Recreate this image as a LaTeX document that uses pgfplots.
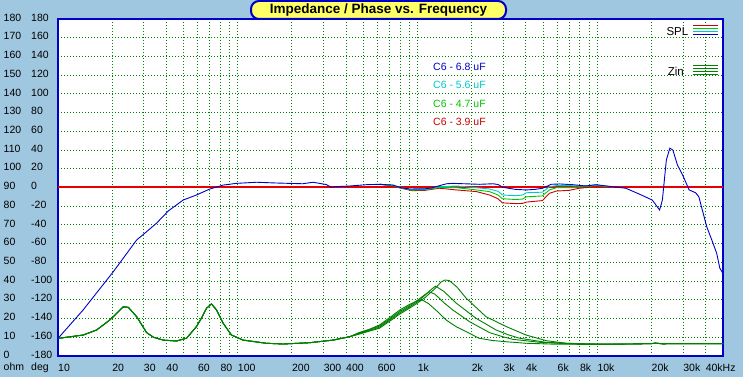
\documentclass[border=0pt]{standalone}
\usepackage{pgfplots}
\pgfplotsset{compat=1.18}
\usepackage{pgfplotstable}
\usepackage{fontspec}
\setmainfont{Liberation Sans}
\definecolor{bgblue}{RGB}{160,199,224}
\definecolor{frameblue}{RGB}{0,0,200}
\definecolor{gridgreen}{RGB}{0,128,0}
\definecolor{zgreen}{RGB}{0,128,0}
\definecolor{splblue}{RGB}{0,0,200}
\definecolor{splcyan}{RGB}{0,200,200}
\definecolor{splgreen}{RGB}{0,200,0}
\definecolor{splred}{RGB}{200,0,0}
\definecolor{refred}{RGB}{230,0,0}
\definecolor{titleyellow}{RGB}{255,255,102}

\pgfplotstableread{
f v
10 9.4
13.8 24.6
20.3 45
27.4 62
31.1 66.4
35.3 70.9
41.1 77.5
49.7 83.3
58.9 86
69.9 89.2
83 91.3
98 92.2
127 92.8
164 92.4
230 92
262 92.8
285 92.2
310 91.6
330 90.2
360 90.5
420 90.8
520 91.5
616 91.7
728 91.3
808 89.9
901 89.2
1100 89.3
1200 89.8
1326 91.0
1450 92.0
1569 92.2
1948 91.9
2216 91.7
2624 92
2800 91.6
2990 90.1
3500 89.0
4016 88.7
4500 89.0
4966 89.6
5532 91.7
6150 91.9
7290 91.5
8640 90.8
9830 91.5
12150 90.4
14400 89.6
17100 86.5
20200 83.3
22200 78
23000 83.3
24200 104.7
25300 111
26300 110
27900 102
29800 96.7
32400 88.7
35200 87.2
36700 85
40600 69
43300 62
46100 54.9
48000 46.9
50000 44
}\tblblue

\pgfplotstableread{
f v
616 91.7
728 91.3
808 89.9
938 88.9
1100 89.0
1325 90.4
1648 90.8
2128 89.9
2512 89.2
2800 88.0
2966 86.0
3500 85.6
3831 86.0
4030 87.2
4945 87.5
5410 90.4
5920 91.0
6985 91.0
7943 90.8
9830 91.3
12150 90.4
}\tblcyan

\pgfplotstableread{
f v
616 91.7
728 91.0
808 89.8
938 88.6
1100 88.8
1325 90.0
1648 89.9
2128 88.7
2512 87.8
2800 86.0
2966 84.0
3500 83.6
3831 83.8
4030 85.0
4945 85.5
5410 88.7
5920 89.9
6985 89.9
7943 90.2
9830 91.0
12150 90.4
}\tblgreen

\pgfplotstableread{
f v
616 91.7
728 90.8
808 89.6
938 88.3
1100 88.5
1325 89.6
1648 88.7
2128 87.8
2512 86.0
2800 84.0
2966 81.8
3500 81.4
3831 81.5
4030 82.2
4945 83.0
5410 86.9
5920 88.1
6985 88.5
7943 89.6
9830 90.5
12150 90.4
}\tblred

\pgfplotstableread{
f v
10 90
50000 90
}\refline

\pgfplotstableread{
f v
10 9.4
13.8 11.2
16.4 13.9
19.4 19.2
21.2 22.8
23.1 26.3
24.6 26.0
27.4 21
31.1 12.5
34 10
38.5 8.5
45.6 8
51.9 9.5
58.9 15.7
63 20.5
67 25.5
71.4 27.8
76.2 24.6
82.9 17.5
92.2 11.2
107 8.5
144 6.8
179 6.4
251 7.1
339 8.5
419 10.3
475 12.6
540 14.3
613 16.5
700 20.5
794 24.5
900 27.5
1000 29.5
1063 29.9
1150 28
1300 23.5
1443 19.2
1650 15.5
1867 13
2194 9.5
2600 8.3
3115 7.6
4016 6.8
5860 6.3
10000 6.2
15000 6.4
20000 6.6
21000 6.9
23000 6.5
30000 6.6
40000 6.6
50000 6.6
}\zinA

\pgfplotstableread{
f v
10 9.4
13.8 11.2
16.4 13.9
19.4 19.2
21.2 22.8
23.1 26.3
24.6 26.0
27.4 21
31.1 12.5
34 10
38.5 8.5
45.6 8
51.9 9.5
58.9 15.7
63 20.5
67 25.5
71.4 27.8
76.2 24.6
82.9 17.5
92.2 11.2
107 8.5
144 6.8
179 6.4
251 7.1
339 8.5
419 10.3
475 12.3
540 14.0
613 16.0
700 19.8
794 23.7
900 26.8
1000 29.8
1100 32.8
1163 34.3
1250 33
1400 28.5
1569 24.6
1948 18.3
2512 12.5
3000 10.2
3390 8.9
4795 7.3
7000 6.5
10000 6.3
15000 6.4
20000 6.6
21000 6.9
23000 6.5
30000 6.6
40000 6.6
50000 6.6
}\zinB

\pgfplotstableread{
f v
10 9.4
13.8 11.2
16.4 13.9
19.4 19.2
21.2 22.8
23.1 26.3
24.6 26.0
27.4 21
31.1 12.5
34 10
38.5 8.5
45.6 8
51.9 9.5
58.9 15.7
63 20.5
67 25.5
71.4 27.8
76.2 24.6
82.9 17.5
92.2 11.2
107 8.5
144 6.8
179 6.4
251 7.1
339 8.5
419 10.3
475 12.0
540 13.6
613 15.4
700 19.2
794 23.0
900 26.2
1000 29.0
1100 32.5
1200 35.8
1260 37.3
1400 34.5
1643 28.2
2118 20.1
2733 13.9
3200 11.3
3690 9.5
5190 7.3
8000 6.5
10000 6.3
15000 6.4
20000 6.6
21000 6.9
23000 6.5
30000 6.6
40000 6.6
50000 6.6
}\zinC

\pgfplotstableread{
f v
10 9.4
13.8 11.2
16.4 13.9
19.4 19.2
21.2 22.8
23.1 26.3
24.6 26.0
27.4 21
31.1 12.5
34 10
38.5 8.5
45.6 8
51.9 9.5
58.9 15.7
63 20.5
67 25.5
71.4 27.8
76.2 24.6
82.9 17.5
92.2 11.2
107 8.5
144 6.8
179 6.4
251 7.1
339 8.5
419 10.3
475 11.7
540 13.3
613 14.8
700 18.6
794 22.3
900 25.5
1000 28.3
1100 31.2
1250 36
1350 39.5
1420 40.6
1500 40.3
1650 37
1867 30.8
2402 21
3115 15.7
4016 11.2
5190 8.2
6700 6.8
10000 6.4
15000 6.4
20000 6.6
21000 6.9
23000 6.5
30000 6.6
40000 6.6
50000 6.6
}\zinD

\newcommand{\yl}[2]{\makebox[27.5pt][l]{#1}#2}

\begin{document}
\begin{tikzpicture}[x=1pt,y=1pt]
\fill[bgblue] (0,0) rectangle (743,377);
\useasboundingbox (0,0) rectangle (743,377);
\begin{axis}[
  at={(58pt,21pt)}, anchor=south west,
  scale only axis, width=665pt, height=337pt,
  xmode=log, xmin=10, xmax=50000, ymin=0, ymax=180,
  axis background/.style={fill=white},
  axis line style={draw=frameblue, line width=2.5pt},
  xtick={10,20,30,40,60,80,100,200,300,400,600,1000,2000,3000,4000,6000,8000,10000,20000,30000,40000},
  xticklabels={10,20,30,40,60,80,100,200,300,400,600,1k,2k,3k,4k,6k,8k,10k,20k,30k,40kHz},
  minor xtick={50,70,90,500,700,800,900,5000,7000,9000},
  ytick={0,10,...,180},
  yticklabels={\yl{0}{-180},\yl{10}{-160},\yl{20}{-140},\yl{30}{-120},\yl{40}{-100},\yl{50}{-80},\yl{60}{-60},\yl{70}{-40},\yl{80}{-20},\yl{90}{0},\yl{100}{20},\yl{110}{40},\yl{120}{60},\yl{130}{80},\yl{140}{100},\yl{150}{120},\yl{160}{140},\yl{170}{160},\yl{180}{180}},
  major tick length=0pt, minor tick length=0pt,
  grid=both,
  major grid style={draw=gridgreen, line width=1pt, dash pattern=on 1pt off 2pt},
  minor grid style={draw=gridgreen, line width=1pt, dash pattern=on 1pt off 2pt},
  xticklabel style={anchor=west, inner sep=0pt, yshift=-12pt, font=\fontsize{10.5}{12}\selectfont},
  yticklabel style={anchor=west, inner sep=0pt, xshift=-54.5pt, yshift=1.5pt, font=\fontsize{10.5}{12}\selectfont},
  every axis plot/.append style={line width=0.9pt},
  clip=true,
]
\addplot[draw=refred, line width=2pt, no markers, solid] table[x=f,y=v] {\refline};
\addplot[zgreen, no markers] table[x=f,y=v] {\zinA};
\addplot[zgreen, no markers] table[x=f,y=v] {\zinB};
\addplot[zgreen, no markers] table[x=f,y=v] {\zinC};
\addplot[zgreen, no markers] table[x=f,y=v] {\zinD};
\addplot[splred, no markers] table[x=f,y=v] {\tblred};
\addplot[splgreen, no markers] table[x=f,y=v] {\tblgreen};
\addplot[splcyan, no markers] table[x=f,y=v] {\tblcyan};
\addplot[splblue, no markers] table[x=f,y=v] {\tblblue};
\end{axis}
% bottom-left unit labels
\node[anchor=west, inner sep=0pt, font=\fontsize{10.5}{12}\selectfont] at (3.5,9) {\makebox[27.5pt][l]{ohm}deg};
% title
\draw[draw=frameblue, line width=2pt, fill=titleyellow, rounded corners=8pt] (251,358) rectangle (506,376);
\node[font=\fontsize{13.5}{15}\selectfont\bfseries] at (378.5,367) {Impedance / Phase vs. Frequency};
% curve labels
\node[anchor=west, inner sep=0pt, text=splblue, font=\fontsize{10.5}{12}\selectfont] at (433,310) {C6 - 6.8 uF};
\node[anchor=west, inner sep=0pt, text=splcyan, font=\fontsize{10.5}{12}\selectfont] at (433,291.7) {C6 - 5.6 uF};
\node[anchor=west, inner sep=0pt, text=splgreen, font=\fontsize{10.5}{12}\selectfont] at (433,273.3) {C6 - 4.7 uF};
\node[anchor=west, inner sep=0pt, text=splred, font=\fontsize{10.5}{12}\selectfont] at (433,255) {C6 - 3.9 uF};
% SPL / Zin legend
\node[anchor=east, inner sep=0pt, font=\fontsize{11.5}{13}\selectfont] at (688.5,345.5) {SPL};
\draw[splred, line width=0.9pt] (693,352) -- (718,352);
\draw[splgreen, line width=0.9pt] (693,349) -- (718,349);
\draw[splcyan, line width=0.9pt] (693,346) -- (718,346);
\draw[splblue, line width=0.9pt] (693,343) -- (718,343);
\node[anchor=east, inner sep=0pt, font=\fontsize{11.5}{13}\selectfont] at (684,306) {Zin};
\draw[zgreen, line width=0.9pt] (693,312) -- (718,312);
\draw[zgreen, line width=0.9pt] (693,309) -- (718,309);
\draw[zgreen, line width=0.9pt] (693,306) -- (718,306);
\draw[zgreen, line width=0.9pt] (693,303) -- (718,303);
\end{tikzpicture}
\end{document}
